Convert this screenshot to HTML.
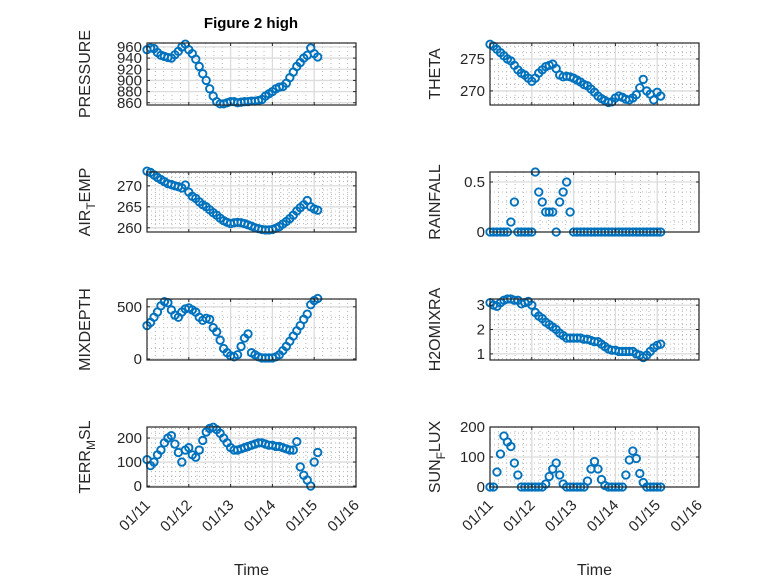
<!DOCTYPE html>
<html><head><meta charset="utf-8"><style>
html,body{margin:0;padding:0;background:#fff;}
svg{display:block;font-family:"Liberation Sans","DejaVu Sans",sans-serif;}
</style></head><body>
<svg id="fig" width="778" height="583" viewBox="0 0 778 583" xmlns="http://www.w3.org/2000/svg">
<rect width="778" height="583" fill="#fff"/>
<text x="251" y="28" text-anchor="middle" font-size="15" font-weight="bold" fill="#000">Figure 2 high</text>
</svg>
<script>
// time in days from 01/11, 2-hour samples
const sampleCount = 50;
const xTickLabels = ["01/11","01/12","01/13","01/14","01/15","01/16"];
const pressure = [955,958,957,950,945,943,941,940,946,952,960,965,955,948,938,925,912,900,885,872,862,858,858,860,862,862,860,861,862,862,863,863,864,866,872,876,880,885,888,889,895,905,915,925,932,940,945,958,948,942];
const theta = [277.3,277,276.5,276,275.5,275,274.7,274,273.3,272.8,272.5,272,271.5,272,272.8,273.3,273.8,274,274.2,273.5,272.5,272.2,272.3,272.2,272,271.7,271.4,271,270.8,270.3,269.8,269.2,268.8,268.5,268.2,268.3,268.9,269.2,269,268.7,268.6,268.9,269.4,270.5,271.8,270,269.5,268.6,269.8,269.2];
const airTemp = [273.5,273.2,272.6,272,271.5,271,270.5,270.3,270,269.8,269.5,270.2,268.5,267.5,267,266.2,265.5,265,264.3,263.6,263,262.3,261.7,261.3,261,261.2,261.3,261.2,261,260.7,260.4,260,259.8,259.6,259.5,259.5,259.6,259.9,260.3,260.9,261.5,262.2,263,264,264.8,265.5,266.5,265,264.5,264.2];
const rainfall = [0,0,0,0,0,0,0.1,0.3,0,0,0,0,0,0.6,0.4,0.3,0.2,0.2,0.2,0,0.3,0.4,0.5,0.2,0,0,0,0,0,0,0,0,0,0,0,0,0,0,0,0,0,0,0,0,0,0,0,0,0,0];
const mixDepth = [320,350,400,450,510,550,540,470,420,400,450,480,490,470,450,400,370,390,380,300,260,180,100,60,30,20,40,120,200,240,60,40,20,10,10,10,10,20,40,80,120,170,220,270,320,380,430,520,560,580];
const h2oMix = [3.1,3.0,2.95,3.1,3.2,3.25,3.25,3.2,3.2,3.05,3.1,3.15,3.0,2.7,2.55,2.45,2.3,2.2,2.1,2.0,1.85,1.75,1.65,1.65,1.65,1.65,1.65,1.6,1.6,1.55,1.5,1.5,1.4,1.3,1.2,1.15,1.15,1.1,1.1,1.1,1.1,1.1,1.0,0.95,0.85,0.95,1.1,1.25,1.35,1.4];
const terrMsl = [110,85,100,130,150,180,200,210,175,140,100,150,160,130,120,150,190,225,240,245,235,220,200,180,160,150,150,155,160,165,170,175,180,180,175,170,170,165,165,160,155,150,150,185,80,45,25,0,100,140];
const sunFlux = [0,0,50,110,170,150,135,80,40,0,0,0,0,0,0,0,10,35,60,80,40,10,0,0,0,0,0,0,20,60,85,60,25,5,0,0,0,0,0,40,90,120,95,45,15,0,0,0,0,0];

const panels = [
 {name:"pressure",data:pressure,x0:147,y0:43,y1:105,ymin:856,ymax:967,ticks:[860,880,900,920,940,960],minor:0,label:["PRESSURE"],lx:90},
 {name:"theta",data:theta,x0:490,y0:43,y1:105,ymin:267.8,ymax:277.5,ticks:[270,275],minor:1,label:["THETA"],lx:440},
 {name:"air-temp",data:airTemp,x0:147,y0:172,y1:232,ymin:259,ymax:273.3,ticks:[260,265,270],minor:1,label:["AIR","T","EMP"],lx:90},
 {name:"rainfall",data:rainfall,x0:490,y0:172,y1:232,ymin:0,ymax:0.6,ticks:[0,0.5],minor:0.1,label:["RAINFALL"],lx:440},
 {name:"mixdepth",data:mixDepth,x0:147,y0:299,y1:360,ymin:-10,ymax:575,ticks:[0,500],minor:100,label:["MIXDEPTH"],lx:90},
 {name:"h2omixra",data:h2oMix,x0:490,y0:299,y1:360,ymin:0.75,ymax:3.25,ticks:[1,2,3],minor:0.2,label:["H2OMIXRA"],lx:440},
 {name:"terr-msl",data:terrMsl,x0:147,y0:427,y1:487,ymin:-4,ymax:246,ticks:[0,100,200],minor:20,label:["TERR","M","SL"],lx:90},
 {name:"sun-flux",data:sunFlux,x0:490,y0:427,y1:487,ymin:0,ymax:200,ticks:[0,100,200],minor:20,label:["SUN","F","LUX"],lx:440}
];
const W = 209, dayPx = W/5;
const NS = "http://www.w3.org/2000/svg";
const svg = document.getElementById("fig");
function mk(tag, attrs, parent){const e=document.createElementNS(NS,tag);for(const k in attrs)e.setAttribute(k,attrs[k]);(parent||svg).appendChild(e);return e;}

panels.forEach((p, pi) => {
  const g = mk("g", {});
  
  
  const H = p.y1 - p.y0;
  const xs = d => p.x0 + d*dayPx;
  const ys = v => p.y1 - (v - p.ymin)/(p.ymax - p.ymin)*H;
  for (let d=0; d<5; d++) for (let m=1; m<5; m++) {
    const x = xs(d + m/5);
    mk("line",{x1:x,x2:x,y1:p.y0,y2:p.y1,stroke:"#b8b8b8","stroke-width":1,"stroke-dasharray":"1,3"},g);
  }
  if (p.minor) {
    for (let v=Math.ceil(p.ymin/p.minor)*p.minor; v<=p.ymax; v+=p.minor) {
      const y = ys(v);
      mk("line",{x1:p.x0,x2:p.x0+W,y1:y,y2:y,stroke:"#b8b8b8","stroke-width":1,"stroke-dasharray":"1,3"},g);
    }
  }
  for (let d=1; d<5; d++) { const x = xs(d); mk("line",{x1:x,x2:x,y1:p.y0,y2:p.y1,stroke:"#dcdcdc","stroke-width":1.3},g); }
  p.ticks.forEach(t => { const y = ys(t); mk("line",{x1:p.x0,x2:p.x0+W,y1:y,y2:y,stroke:"#dcdcdc","stroke-width":1.3},g); });
  p.data.forEach((v,i) => {
    const c = mk("circle",{cx:xs(i/12),cy:ys(v),r:3.7,fill:"none",stroke:"#0072BD","stroke-width":1.9},g);
    
    
  });
  mk("rect",{x:p.x0,y:p.y0,width:W,height:H,fill:"none",stroke:"#262626","stroke-width":1.2},g);
  p.ticks.forEach(t => {
    const y = ys(t);
    mk("line",{x1:p.x0,x2:p.x0+3,y1:y,y2:y,stroke:"#262626"},g);
    mk("line",{x1:p.x0+W,x2:p.x0+W-3,y1:y,y2:y,stroke:"#262626"},g);
    const tx = mk("text",{x:p.x0-5,y:y+5,"text-anchor":"end","font-size":15,fill:"#262626"},g);
    tx.textContent = String(t);
    
    
  });
  xTickLabels.forEach((lab,d) => {
    const x = xs(d);
    mk("line",{x1:x,x2:x,y1:p.y1,y2:p.y1-3,stroke:"#262626"},g);
    mk("line",{x1:x,x2:x,y1:p.y0,y2:p.y0+3,stroke:"#262626"},g);
    if (pi >= 6) {
      const ax = x+4, ay = p.y1+19;
      const tx = mk("text",{x:ax,y:ay,"text-anchor":"end","font-size":15,fill:"#262626",transform:`rotate(-45 ${ax} ${ay})`},g);
      tx.textContent = lab;
      
      
    }
  });
  const cy = (p.y0 + p.y1)/2;
  const yl = mk("text",{x:p.lx,y:cy,"text-anchor":"middle","font-size":16,fill:"#262626",transform:`rotate(-90 ${p.lx} ${cy})`},g);
  
  
  if (p.label.length === 1) yl.textContent = p.label[0];
  else {
    const a = mk("tspan",{},yl); a.textContent = p.label[0];
    const b = mk("tspan",{dy:5,"font-size":12},yl); b.textContent = p.label[1];
    const c = mk("tspan",{dy:-5},yl); c.textContent = p.label[2];
  }
  if (pi >= 6) {
    const xt = mk("text",{x:p.x0+W/2,y:575,"text-anchor":"middle","font-size":16,fill:"#262626"},g);
    xt.textContent = "Time";
    
    
  }
});
</script>
</body></html>
